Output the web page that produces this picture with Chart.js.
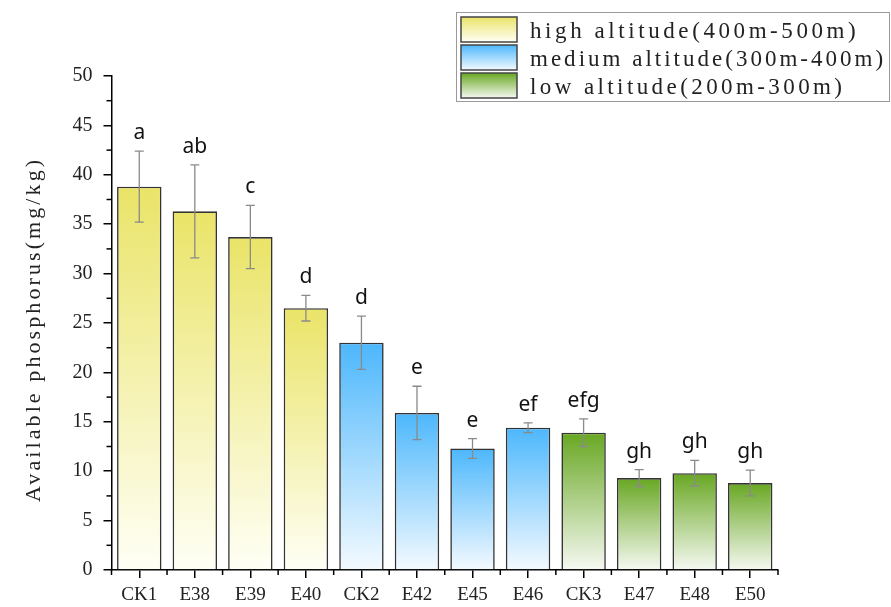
<!DOCTYPE html>
<html>
<head>
<meta charset="utf-8">
<script src="https://cdn.jsdelivr.net/npm/chart.js@4/dist/chart.umd.min.js"></script>
<style>
  html, body { margin: 0; padding: 0; background: #fff; }
  #wrap { width: 891px; height: 607px; position: relative; }
</style>
</head>
<body>
<div id="wrap"><canvas id="chart"></canvas></div>
<script>
// Available phosphorus by site, grouped by altitude band
const categories = ['CK1', 'E38', 'E39', 'E40', 'CK2', 'E42', 'E45', 'E46', 'CK3', 'E47', 'E48', 'E50'];
const means      = [38.8, 36.3, 33.7, 26.5, 23.0, 15.9, 12.3, 14.4, 13.9, 9.3, 9.8, 8.8];
const errors     = [3.6, 4.7, 3.2, 1.3, 2.7, 2.7, 1.0, 0.5, 1.4, 0.85, 1.3, 1.3];
const letters    = ['a', 'ab', 'c', 'd', 'd', 'e', 'e', 'ef', 'efg', 'gh', 'gh', 'gh'];
const groupOf    = [0, 0, 0, 0, 1, 1, 1, 1, 2, 2, 2, 2];
const groupNames = ['high altitude(400m-500m)', 'medium altitude(300m-400m)', 'low altitude(200m-300m)'];
const yMin = 0, yMax = 50, yStep = 5;
const yTitle = 'Available phosphorus(mg/kg)';

// top / bottom colours of each band's vertical gradient
const bandTop = ['rgb(234,228,104)', 'rgb(76,183,252)', 'rgb(104,167,34)'];
const bandBottom = ['rgb(255,255,246)', 'rgb(244,250,255)', 'rgb(246,249,242)'];

function bandGradient(ctx, g, y0, y1) {
  const grad = ctx.createLinearGradient(0, y0, 0, y1);
  grad.addColorStop(0, bandTop[g]);
  grad.addColorStop(1, bandBottom[g]);
  return grad;
}

// draw left-aligned text stretched to a given width with even letter spacing
function drawSpaced(ctx, text, x, y, width) {
  ctx.letterSpacing = '0px';
  const w = ctx.measureText(text).width;
  const s = Math.max(0, (width - w) / (text.length - 1));
  ctx.letterSpacing = s.toFixed(2) + 'px';
  ctx.textAlign = 'left';
  ctx.fillText(text, x, y);
  ctx.letterSpacing = '0px';
}

const extras = {
  id: 'extras',
  afterDatasetsDraw(chart) {
    const ctx = chart.ctx;
    const x = chart.scales.x, y = chart.scales.y;
    const meta = chart.getDatasetMeta(0);
    const area = chart.chartArea;
    ctx.save();

    // error bars
    ctx.strokeStyle = '#8a8a8a';
    ctx.lineWidth = 1.3;
    meta.data.forEach((bar, i) => {
      const cx = bar.x;
      const hi = y.getPixelForValue(means[i] + errors[i]);
      const lo = y.getPixelForValue(means[i] - errors[i]);
      ctx.beginPath();
      ctx.moveTo(cx, hi); ctx.lineTo(cx, lo);
      ctx.moveTo(cx - 4.5, hi); ctx.lineTo(cx + 4.5, hi);
      ctx.moveTo(cx - 4.5, lo); ctx.lineTo(cx + 4.5, lo);
      ctx.stroke();
    });

    // significance letters
    ctx.fillStyle = '#111';
    ctx.font = '21px "Noto Sans", "Open Sans", sans-serif';
    ctx.textAlign = 'center';
    ctx.textBaseline = 'alphabetic';
    meta.data.forEach((bar, i) => {
      const hi = y.getPixelForValue(means[i] + errors[i]);
      ctx.fillText(letters[i], bar.x, hi - 12);
    });

    // minor ticks on the value axis
    ctx.strokeStyle = '#000';
    ctx.lineWidth = 1.5;
    for (let v = yMin + yStep / 2; v < yMax; v += yStep) {
      const py = y.getPixelForValue(v);
      ctx.beginPath();
      ctx.moveTo(area.left, py); ctx.lineTo(area.left - 5, py);
      ctx.stroke();
    }
    // minor ticks at category boundaries
    const half = (x.getPixelForValue(1) - x.getPixelForValue(0)) / 2;
    for (let i = 0; i <= categories.length; i++) {
      const px = x.getPixelForValue(0) - half + i * half * 2;
      ctx.beginPath();
      ctx.moveTo(px, area.bottom); ctx.lineTo(px, area.bottom + 5);
      ctx.stroke();
    }

    // axis title
    ctx.fillStyle = '#222';
    ctx.font = '22px "Liberation Serif", serif';
    ctx.textBaseline = 'middle';
    ctx.translate(33, 331);
    ctx.rotate(-Math.PI / 2);
    drawSpaced(ctx, yTitle, -171, 1, 342);
    ctx.setTransform(1, 0, 0, 1, 0, 0);

    // legend
    ctx.strokeStyle = '#9a9a9a';
    ctx.lineWidth = 1;
    ctx.strokeRect(456.5, 12.5, 433, 89);
    groupNames.forEach((name, g) => {
      const top = 17 + g * 28;
      ctx.fillStyle = bandGradient(ctx, g, top, top + 25);
      ctx.fillRect(461, top, 56, 25);
      ctx.strokeStyle = '#444';
      ctx.lineWidth = 1.5;
      ctx.strokeRect(461, top, 56, 25);
      ctx.fillStyle = '#222';
      ctx.font = '23px "Liberation Serif", serif';
      ctx.textBaseline = 'alphabetic';
      drawSpaced(ctx, name, 530, top + 21, name.length * 13.7 - 3);
    });
    ctx.restore();
  }
};

new Chart(document.getElementById('chart'), {
  type: 'bar',
  data: {
    labels: categories,
    datasets: [{
      label: 'Available phosphorus',
      data: means,
      backgroundColor: (c) => {
        const g = groupOf[c.dataIndex] ?? 0;
        const chart = c.chart;
        if (c.type !== 'data' || !chart.chartArea) return bandTop[g];
        const y = chart.scales.y;
        return bandGradient(chart.ctx, g, y.getPixelForValue(means[c.dataIndex]), y.getPixelForValue(0));
      },
      borderColor: '#333',
      borderWidth: 1.6,
      barPercentage: 0.8,
      categoryPercentage: 1.0
    }]
  },
  options: {
    responsive: true,
    maintainAspectRatio: false,
    animation: false,
    layout: { padding: { top: 76, right: 113, left: 0, bottom: 0 } },
    plugins: {
      legend: { display: false },
      tooltip: { enabled: false }
    },
    scales: {
      x: {
        grid: { display: true, offset: false, drawOnChartArea: false, drawTicks: true, tickLength: 8, color: '#000', lineWidth: 1.5 },
        border: { display: true, color: '#000', width: 1.5 },
        ticks: { color: '#222', padding: 6, font: { family: '"Liberation Serif", serif', size: 19 }, maxRotation: 0 },
        afterFit: (s) => { s.height = 37; }
      },
      y: {
        min: yMin, max: yMax,
        grid: { display: true, drawOnChartArea: false, drawTicks: true, tickLength: 8, color: '#000', lineWidth: 1.5 },
        border: { display: true, color: '#000', width: 1.5 },
        ticks: { stepSize: yStep, color: '#222', padding: 11, font: { family: '"Liberation Serif", serif', size: 20 } },
        afterFit: (s) => { s.width = 111.5; }
      }
    }
  },
  plugins: [extras]
});
</script>
</body>
</html>
